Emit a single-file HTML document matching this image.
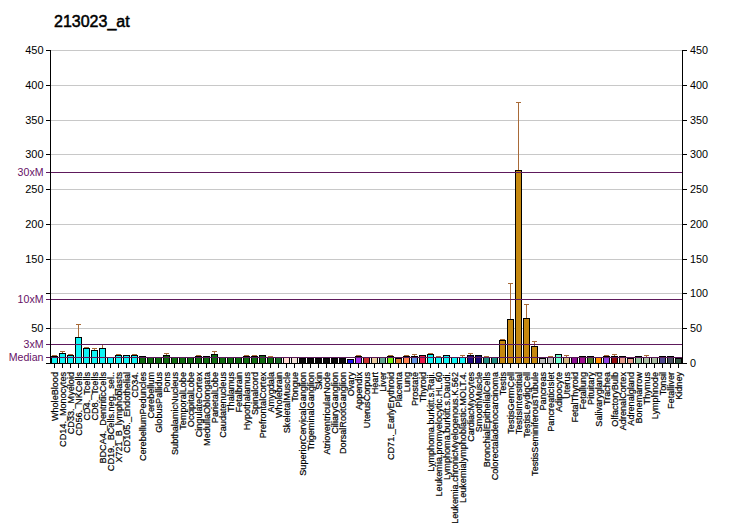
<!DOCTYPE html>
<html><head><meta charset="utf-8"><style>
html,body{margin:0;padding:0;background:#fff;width:732px;height:530px;overflow:hidden}
svg{display:block}
</style></head><body>
<svg width="732" height="530" viewBox="0 0 732 530" shape-rendering="crispEdges">
<rect x="51" y="328" width="631" height="1" fill="#c8c8c8"/>
<rect x="51" y="293" width="631" height="1" fill="#c8c8c8"/>
<rect x="51" y="259" width="631" height="1" fill="#c8c8c8"/>
<rect x="51" y="224" width="631" height="1" fill="#c8c8c8"/>
<rect x="51" y="189" width="631" height="1" fill="#c8c8c8"/>
<rect x="51" y="154" width="631" height="1" fill="#c8c8c8"/>
<rect x="51" y="120" width="631" height="1" fill="#c8c8c8"/>
<rect x="51" y="85" width="631" height="1" fill="#c8c8c8"/>
<rect x="51" y="50" width="631" height="1" fill="#c8c8c8"/>
<rect x="51" y="356" width="7" height="8" fill="#000"/>
<rect x="52" y="357" width="5" height="6" fill="#10f4f4"/>
<rect x="54" y="355" width="1" height="1" fill="#a86a38"/>
<rect x="52" y="355" width="5" height="1" fill="#a86a38"/>
<rect x="59" y="353" width="7" height="11" fill="#000"/>
<rect x="60" y="354" width="5" height="9" fill="#10f4f4"/>
<rect x="62" y="351" width="1" height="2" fill="#a86a38"/>
<rect x="60" y="351" width="5" height="1" fill="#a86a38"/>
<rect x="67" y="355" width="7" height="9" fill="#000"/>
<rect x="68" y="356" width="5" height="7" fill="#10f4f4"/>
<rect x="70" y="354" width="1" height="1" fill="#a86a38"/>
<rect x="68" y="354" width="5" height="1" fill="#a86a38"/>
<rect x="75" y="337" width="7" height="27" fill="#000"/>
<rect x="76" y="338" width="5" height="25" fill="#10f4f4"/>
<rect x="78" y="324" width="1" height="13" fill="#a86a38"/>
<rect x="76" y="324" width="5" height="1" fill="#a86a38"/>
<rect x="83" y="348" width="7" height="16" fill="#000"/>
<rect x="84" y="349" width="5" height="14" fill="#10f4f4"/>
<rect x="86" y="347" width="1" height="1" fill="#a86a38"/>
<rect x="84" y="347" width="5" height="1" fill="#a86a38"/>
<rect x="91" y="350" width="7" height="14" fill="#000"/>
<rect x="92" y="351" width="5" height="12" fill="#10f4f4"/>
<rect x="94" y="348" width="1" height="2" fill="#a86a38"/>
<rect x="92" y="348" width="5" height="1" fill="#a86a38"/>
<rect x="99" y="348" width="7" height="16" fill="#000"/>
<rect x="100" y="349" width="5" height="14" fill="#10f4f4"/>
<rect x="102" y="344" width="1" height="4" fill="#a86a38"/>
<rect x="100" y="344" width="5" height="1" fill="#a86a38"/>
<rect x="107" y="357" width="7" height="7" fill="#000"/>
<rect x="108" y="358" width="5" height="5" fill="#10f4f4"/>
<rect x="115" y="355" width="7" height="9" fill="#000"/>
<rect x="116" y="356" width="5" height="7" fill="#10f4f4"/>
<rect x="118" y="354" width="1" height="1" fill="#a86a38"/>
<rect x="116" y="354" width="5" height="1" fill="#a86a38"/>
<rect x="123" y="355" width="7" height="9" fill="#000"/>
<rect x="124" y="356" width="5" height="7" fill="#10f4f4"/>
<rect x="131" y="355" width="7" height="9" fill="#000"/>
<rect x="132" y="356" width="5" height="7" fill="#10f4f4"/>
<rect x="134" y="354" width="1" height="1" fill="#a86a38"/>
<rect x="132" y="354" width="5" height="1" fill="#a86a38"/>
<rect x="139" y="356" width="7" height="8" fill="#000"/>
<rect x="140" y="357" width="5" height="6" fill="#0e6a10"/>
<rect x="147" y="357" width="7" height="7" fill="#000"/>
<rect x="148" y="358" width="5" height="5" fill="#0e6a10"/>
<rect x="155" y="357" width="7" height="7" fill="#000"/>
<rect x="156" y="358" width="5" height="5" fill="#0e6a10"/>
<rect x="163" y="355" width="7" height="9" fill="#000"/>
<rect x="164" y="356" width="5" height="7" fill="#0e6a10"/>
<rect x="166" y="353" width="1" height="2" fill="#a86a38"/>
<rect x="164" y="353" width="5" height="1" fill="#a86a38"/>
<rect x="171" y="357" width="7" height="7" fill="#000"/>
<rect x="172" y="358" width="5" height="5" fill="#0e6a10"/>
<rect x="179" y="357" width="7" height="7" fill="#000"/>
<rect x="180" y="358" width="5" height="5" fill="#0e6a10"/>
<rect x="187" y="357" width="7" height="7" fill="#000"/>
<rect x="188" y="358" width="5" height="5" fill="#0e6a10"/>
<rect x="195" y="356" width="7" height="8" fill="#000"/>
<rect x="196" y="357" width="5" height="6" fill="#0e6a10"/>
<rect x="196" y="355" width="5" height="1" fill="#a86a38"/>
<rect x="203" y="356" width="7" height="8" fill="#000"/>
<rect x="204" y="357" width="5" height="6" fill="#0e6a10"/>
<rect x="211" y="354" width="7" height="10" fill="#000"/>
<rect x="212" y="355" width="5" height="8" fill="#0e6a10"/>
<rect x="214" y="351" width="1" height="3" fill="#a86a38"/>
<rect x="212" y="351" width="5" height="1" fill="#a86a38"/>
<rect x="219" y="357" width="7" height="7" fill="#000"/>
<rect x="220" y="358" width="5" height="5" fill="#0e6a10"/>
<rect x="227" y="357" width="7" height="7" fill="#000"/>
<rect x="228" y="358" width="5" height="5" fill="#0e6a10"/>
<rect x="235" y="357" width="7" height="7" fill="#000"/>
<rect x="236" y="358" width="5" height="5" fill="#0e6a10"/>
<rect x="243" y="356" width="7" height="8" fill="#000"/>
<rect x="244" y="357" width="5" height="6" fill="#0e6a10"/>
<rect x="246" y="355" width="1" height="1" fill="#a86a38"/>
<rect x="244" y="355" width="5" height="1" fill="#a86a38"/>
<rect x="251" y="356" width="7" height="8" fill="#000"/>
<rect x="252" y="357" width="5" height="6" fill="#0e6a10"/>
<rect x="254" y="355" width="1" height="1" fill="#a86a38"/>
<rect x="252" y="355" width="5" height="1" fill="#a86a38"/>
<rect x="259" y="355" width="7" height="9" fill="#000"/>
<rect x="260" y="356" width="5" height="7" fill="#0e6a10"/>
<rect x="267" y="357" width="7" height="7" fill="#000"/>
<rect x="268" y="358" width="5" height="5" fill="#0e6a10"/>
<rect x="270" y="356" width="1" height="1" fill="#a86a38"/>
<rect x="268" y="356" width="5" height="1" fill="#a86a38"/>
<rect x="275" y="357" width="7" height="7" fill="#000"/>
<rect x="276" y="358" width="5" height="5" fill="#1a6a2a"/>
<rect x="283" y="357" width="7" height="7" fill="#000"/>
<rect x="284" y="358" width="5" height="5" fill="#ffd8d0"/>
<rect x="291" y="357" width="7" height="7" fill="#000"/>
<rect x="292" y="358" width="5" height="5" fill="#f0e0d8"/>
<rect x="299" y="358" width="7" height="6" fill="#000"/>
<rect x="300" y="359" width="5" height="4" fill="#0a0a0a"/>
<rect x="307" y="358" width="7" height="6" fill="#000"/>
<rect x="308" y="359" width="5" height="4" fill="#0a0a0a"/>
<rect x="315" y="358" width="7" height="6" fill="#000"/>
<rect x="316" y="359" width="5" height="4" fill="#0a0a0a"/>
<rect x="323" y="358" width="7" height="6" fill="#000"/>
<rect x="324" y="359" width="5" height="4" fill="#0a0a0a"/>
<rect x="331" y="358" width="7" height="6" fill="#000"/>
<rect x="332" y="359" width="5" height="4" fill="#0a0a0a"/>
<rect x="339" y="358" width="7" height="6" fill="#000"/>
<rect x="340" y="359" width="5" height="4" fill="#0a0a0a"/>
<rect x="347" y="359" width="7" height="5" fill="#000"/>
<rect x="348" y="360" width="5" height="3" fill="#1a10f0"/>
<rect x="355" y="356" width="7" height="8" fill="#000"/>
<rect x="356" y="357" width="5" height="6" fill="#a030f0"/>
<rect x="358" y="355" width="1" height="1" fill="#a86a38"/>
<rect x="356" y="355" width="5" height="1" fill="#a86a38"/>
<rect x="363" y="357" width="7" height="7" fill="#000"/>
<rect x="364" y="358" width="5" height="5" fill="#c83030"/>
<rect x="371" y="357" width="7" height="7" fill="#000"/>
<rect x="372" y="358" width="5" height="5" fill="#e8c8a0"/>
<rect x="379" y="357" width="7" height="7" fill="#000"/>
<rect x="380" y="358" width="5" height="5" fill="#5fa58f"/>
<rect x="387" y="356" width="7" height="8" fill="#000"/>
<rect x="388" y="357" width="5" height="6" fill="#70f010"/>
<rect x="390" y="355" width="1" height="1" fill="#a86a38"/>
<rect x="388" y="355" width="5" height="1" fill="#a86a38"/>
<rect x="395" y="358" width="7" height="6" fill="#000"/>
<rect x="396" y="359" width="5" height="4" fill="#d87830"/>
<rect x="403" y="356" width="7" height="8" fill="#000"/>
<rect x="404" y="357" width="5" height="6" fill="#ff8050"/>
<rect x="404" y="355" width="5" height="1" fill="#a86a38"/>
<rect x="411" y="356" width="7" height="8" fill="#000"/>
<rect x="412" y="357" width="5" height="6" fill="#6090e0"/>
<rect x="414" y="354" width="1" height="2" fill="#a86a38"/>
<rect x="412" y="354" width="5" height="1" fill="#a86a38"/>
<rect x="419" y="355" width="7" height="9" fill="#000"/>
<rect x="420" y="356" width="5" height="7" fill="#e8184a"/>
<rect x="427" y="354" width="7" height="10" fill="#000"/>
<rect x="428" y="355" width="5" height="8" fill="#10f4f4"/>
<rect x="430" y="353" width="1" height="1" fill="#a86a38"/>
<rect x="428" y="353" width="5" height="1" fill="#a86a38"/>
<rect x="435" y="357" width="7" height="7" fill="#000"/>
<rect x="436" y="358" width="5" height="5" fill="#10f4f4"/>
<rect x="438" y="356" width="1" height="1" fill="#a86a38"/>
<rect x="436" y="356" width="5" height="1" fill="#a86a38"/>
<rect x="443" y="355" width="7" height="9" fill="#000"/>
<rect x="444" y="356" width="5" height="7" fill="#10f4f4"/>
<rect x="451" y="357" width="7" height="7" fill="#000"/>
<rect x="452" y="358" width="5" height="5" fill="#10f4f4"/>
<rect x="459" y="357" width="7" height="7" fill="#000"/>
<rect x="460" y="358" width="5" height="5" fill="#10f4f4"/>
<rect x="462" y="355" width="1" height="2" fill="#a86a38"/>
<rect x="460" y="355" width="5" height="1" fill="#a86a38"/>
<rect x="467" y="355" width="7" height="9" fill="#000"/>
<rect x="468" y="356" width="5" height="7" fill="#200a80"/>
<rect x="470" y="353" width="1" height="2" fill="#a86a38"/>
<rect x="468" y="353" width="5" height="1" fill="#a86a38"/>
<rect x="475" y="355" width="7" height="9" fill="#000"/>
<rect x="476" y="356" width="5" height="7" fill="#1a0a78"/>
<rect x="483" y="357" width="7" height="7" fill="#000"/>
<rect x="484" y="358" width="5" height="5" fill="#1f8a80"/>
<rect x="486" y="356" width="1" height="1" fill="#a86a38"/>
<rect x="484" y="356" width="5" height="1" fill="#a86a38"/>
<rect x="491" y="357" width="7" height="7" fill="#000"/>
<rect x="492" y="358" width="5" height="5" fill="#1f8a80"/>
<rect x="499" y="340" width="7" height="24" fill="#000"/>
<rect x="500" y="341" width="5" height="22" fill="#c5880f"/>
<rect x="502" y="339" width="1" height="1" fill="#a86a38"/>
<rect x="500" y="339" width="5" height="1" fill="#a86a38"/>
<rect x="507" y="319" width="7" height="45" fill="#000"/>
<rect x="508" y="320" width="5" height="43" fill="#c5880f"/>
<rect x="510" y="283" width="1" height="36" fill="#a86a38"/>
<rect x="508" y="283" width="5" height="1" fill="#a86a38"/>
<rect x="515" y="170" width="7" height="194" fill="#000"/>
<rect x="516" y="171" width="5" height="192" fill="#c5880f"/>
<rect x="518" y="102" width="1" height="68" fill="#a86a38"/>
<rect x="516" y="102" width="5" height="1" fill="#a86a38"/>
<rect x="523" y="318" width="7" height="46" fill="#000"/>
<rect x="524" y="319" width="5" height="44" fill="#c5880f"/>
<rect x="526" y="304" width="1" height="14" fill="#a86a38"/>
<rect x="524" y="304" width="5" height="1" fill="#a86a38"/>
<rect x="531" y="346" width="7" height="18" fill="#000"/>
<rect x="532" y="347" width="5" height="16" fill="#c5880f"/>
<rect x="534" y="341" width="1" height="5" fill="#a86a38"/>
<rect x="532" y="341" width="5" height="1" fill="#a86a38"/>
<rect x="539" y="358" width="7" height="6" fill="#000"/>
<rect x="540" y="359" width="5" height="4" fill="#b8b8b8"/>
<rect x="547" y="357" width="7" height="7" fill="#000"/>
<rect x="548" y="358" width="5" height="5" fill="#b8b8b8"/>
<rect x="550" y="356" width="1" height="1" fill="#a86a38"/>
<rect x="548" y="356" width="5" height="1" fill="#a86a38"/>
<rect x="555" y="354" width="7" height="10" fill="#000"/>
<rect x="556" y="355" width="5" height="8" fill="#70ffd0"/>
<rect x="563" y="357" width="7" height="7" fill="#000"/>
<rect x="564" y="358" width="5" height="5" fill="#d0b880"/>
<rect x="566" y="355" width="1" height="2" fill="#a86a38"/>
<rect x="564" y="355" width="5" height="1" fill="#a86a38"/>
<rect x="571" y="357" width="7" height="7" fill="#000"/>
<rect x="572" y="358" width="5" height="5" fill="#8b1090"/>
<rect x="579" y="356" width="7" height="8" fill="#000"/>
<rect x="580" y="357" width="5" height="6" fill="#a01090"/>
<rect x="587" y="356" width="7" height="8" fill="#000"/>
<rect x="588" y="357" width="5" height="6" fill="#4a7a30"/>
<rect x="595" y="357" width="7" height="7" fill="#000"/>
<rect x="596" y="358" width="5" height="5" fill="#ff9000"/>
<rect x="603" y="356" width="7" height="8" fill="#000"/>
<rect x="604" y="357" width="5" height="6" fill="#9040e0"/>
<rect x="606" y="355" width="1" height="1" fill="#a86a38"/>
<rect x="604" y="355" width="5" height="1" fill="#a86a38"/>
<rect x="611" y="356" width="7" height="8" fill="#000"/>
<rect x="612" y="357" width="5" height="6" fill="#900a10"/>
<rect x="614" y="354" width="1" height="2" fill="#a86a38"/>
<rect x="612" y="354" width="5" height="1" fill="#a86a38"/>
<rect x="619" y="356" width="7" height="8" fill="#000"/>
<rect x="620" y="357" width="5" height="6" fill="#e09888"/>
<rect x="627" y="358" width="7" height="6" fill="#000"/>
<rect x="628" y="359" width="5" height="4" fill="#e09888"/>
<rect x="635" y="356" width="7" height="8" fill="#000"/>
<rect x="636" y="357" width="5" height="6" fill="#90c098"/>
<rect x="643" y="357" width="7" height="7" fill="#000"/>
<rect x="644" y="358" width="5" height="5" fill="#a8bca0"/>
<rect x="646" y="355" width="1" height="2" fill="#a86a38"/>
<rect x="644" y="355" width="5" height="1" fill="#a86a38"/>
<rect x="651" y="357" width="7" height="7" fill="#000"/>
<rect x="652" y="358" width="5" height="5" fill="#a8b8a0"/>
<rect x="659" y="356" width="7" height="8" fill="#000"/>
<rect x="660" y="357" width="5" height="6" fill="#504890"/>
<rect x="667" y="356" width="7" height="8" fill="#000"/>
<rect x="668" y="357" width="5" height="6" fill="#485060"/>
<rect x="675" y="358" width="7" height="6" fill="#000"/>
<rect x="676" y="359" width="5" height="4" fill="#385848"/>
<rect x="46" y="172" width="636" height="1" fill="#5e1a5c"/>
<rect x="46" y="299" width="636" height="1" fill="#5e1a5c"/>
<rect x="46" y="344" width="636" height="1" fill="#5e1a5c"/>
<rect x="46" y="357" width="636" height="1" fill="#5e1a5c"/>
<rect x="50" y="50" width="1" height="314" fill="#000"/>
<rect x="682" y="50" width="1" height="314" fill="#000"/>
<rect x="46" y="363" width="641" height="1" fill="#000"/>
<rect x="46" y="328" width="4" height="1" fill="#000"/>
<rect x="683" y="328" width="4" height="1" fill="#000"/>
<rect x="46" y="293" width="4" height="1" fill="#000"/>
<rect x="683" y="293" width="4" height="1" fill="#000"/>
<rect x="46" y="259" width="4" height="1" fill="#000"/>
<rect x="683" y="259" width="4" height="1" fill="#000"/>
<rect x="46" y="224" width="4" height="1" fill="#000"/>
<rect x="683" y="224" width="4" height="1" fill="#000"/>
<rect x="46" y="189" width="4" height="1" fill="#000"/>
<rect x="683" y="189" width="4" height="1" fill="#000"/>
<rect x="46" y="154" width="4" height="1" fill="#000"/>
<rect x="683" y="154" width="4" height="1" fill="#000"/>
<rect x="46" y="120" width="4" height="1" fill="#000"/>
<rect x="683" y="120" width="4" height="1" fill="#000"/>
<rect x="46" y="85" width="4" height="1" fill="#000"/>
<rect x="683" y="85" width="4" height="1" fill="#000"/>
<rect x="46" y="50" width="4" height="1" fill="#000"/>
<rect x="683" y="50" width="4" height="1" fill="#000"/>
<rect x="54" y="364" width="1" height="4" fill="#000"/>
<rect x="62" y="364" width="1" height="4" fill="#000"/>
<rect x="70" y="364" width="1" height="4" fill="#000"/>
<rect x="78" y="364" width="1" height="4" fill="#000"/>
<rect x="86" y="364" width="1" height="4" fill="#000"/>
<rect x="94" y="364" width="1" height="4" fill="#000"/>
<rect x="102" y="364" width="1" height="4" fill="#000"/>
<rect x="110" y="364" width="1" height="4" fill="#000"/>
<rect x="118" y="364" width="1" height="4" fill="#000"/>
<rect x="126" y="364" width="1" height="4" fill="#000"/>
<rect x="134" y="364" width="1" height="4" fill="#000"/>
<rect x="142" y="364" width="1" height="4" fill="#000"/>
<rect x="150" y="364" width="1" height="4" fill="#000"/>
<rect x="158" y="364" width="1" height="4" fill="#000"/>
<rect x="166" y="364" width="1" height="4" fill="#000"/>
<rect x="174" y="364" width="1" height="4" fill="#000"/>
<rect x="182" y="364" width="1" height="4" fill="#000"/>
<rect x="190" y="364" width="1" height="4" fill="#000"/>
<rect x="198" y="364" width="1" height="4" fill="#000"/>
<rect x="206" y="364" width="1" height="4" fill="#000"/>
<rect x="214" y="364" width="1" height="4" fill="#000"/>
<rect x="222" y="364" width="1" height="4" fill="#000"/>
<rect x="230" y="364" width="1" height="4" fill="#000"/>
<rect x="238" y="364" width="1" height="4" fill="#000"/>
<rect x="246" y="364" width="1" height="4" fill="#000"/>
<rect x="254" y="364" width="1" height="4" fill="#000"/>
<rect x="262" y="364" width="1" height="4" fill="#000"/>
<rect x="270" y="364" width="1" height="4" fill="#000"/>
<rect x="278" y="364" width="1" height="4" fill="#000"/>
<rect x="286" y="364" width="1" height="4" fill="#000"/>
<rect x="294" y="364" width="1" height="4" fill="#000"/>
<rect x="302" y="364" width="1" height="4" fill="#000"/>
<rect x="310" y="364" width="1" height="4" fill="#000"/>
<rect x="318" y="364" width="1" height="4" fill="#000"/>
<rect x="326" y="364" width="1" height="4" fill="#000"/>
<rect x="334" y="364" width="1" height="4" fill="#000"/>
<rect x="342" y="364" width="1" height="4" fill="#000"/>
<rect x="350" y="364" width="1" height="4" fill="#000"/>
<rect x="358" y="364" width="1" height="4" fill="#000"/>
<rect x="366" y="364" width="1" height="4" fill="#000"/>
<rect x="374" y="364" width="1" height="4" fill="#000"/>
<rect x="382" y="364" width="1" height="4" fill="#000"/>
<rect x="390" y="364" width="1" height="4" fill="#000"/>
<rect x="398" y="364" width="1" height="4" fill="#000"/>
<rect x="406" y="364" width="1" height="4" fill="#000"/>
<rect x="414" y="364" width="1" height="4" fill="#000"/>
<rect x="422" y="364" width="1" height="4" fill="#000"/>
<rect x="430" y="364" width="1" height="4" fill="#000"/>
<rect x="438" y="364" width="1" height="4" fill="#000"/>
<rect x="446" y="364" width="1" height="4" fill="#000"/>
<rect x="454" y="364" width="1" height="4" fill="#000"/>
<rect x="462" y="364" width="1" height="4" fill="#000"/>
<rect x="470" y="364" width="1" height="4" fill="#000"/>
<rect x="478" y="364" width="1" height="4" fill="#000"/>
<rect x="486" y="364" width="1" height="4" fill="#000"/>
<rect x="494" y="364" width="1" height="4" fill="#000"/>
<rect x="502" y="364" width="1" height="4" fill="#000"/>
<rect x="510" y="364" width="1" height="4" fill="#000"/>
<rect x="518" y="364" width="1" height="4" fill="#000"/>
<rect x="526" y="364" width="1" height="4" fill="#000"/>
<rect x="534" y="364" width="1" height="4" fill="#000"/>
<rect x="542" y="364" width="1" height="4" fill="#000"/>
<rect x="550" y="364" width="1" height="4" fill="#000"/>
<rect x="558" y="364" width="1" height="4" fill="#000"/>
<rect x="566" y="364" width="1" height="4" fill="#000"/>
<rect x="574" y="364" width="1" height="4" fill="#000"/>
<rect x="582" y="364" width="1" height="4" fill="#000"/>
<rect x="590" y="364" width="1" height="4" fill="#000"/>
<rect x="598" y="364" width="1" height="4" fill="#000"/>
<rect x="606" y="364" width="1" height="4" fill="#000"/>
<rect x="614" y="364" width="1" height="4" fill="#000"/>
<rect x="622" y="364" width="1" height="4" fill="#000"/>
<rect x="630" y="364" width="1" height="4" fill="#000"/>
<rect x="638" y="364" width="1" height="4" fill="#000"/>
<rect x="646" y="364" width="1" height="4" fill="#000"/>
<rect x="654" y="364" width="1" height="4" fill="#000"/>
<rect x="662" y="364" width="1" height="4" fill="#000"/>
<rect x="670" y="364" width="1" height="4" fill="#000"/>
<rect x="678" y="364" width="1" height="4" fill="#000"/>
<g shape-rendering="auto" font-family="Liberation Sans, sans-serif">
<text x="54" y="27" font-size="16" stroke="#000" stroke-width="0.5" fill="#000">213023_at</text>
<text transform="translate(43.5,262.6) scale(1.02,1)" font-size="10.8" text-anchor="end" fill="#000">150</text>
<text transform="translate(43.5,227.8) scale(1.02,1)" font-size="10.8" text-anchor="end" fill="#000">200</text>
<text transform="translate(43.5,193.0) scale(1.02,1)" font-size="10.8" text-anchor="end" fill="#000">250</text>
<text transform="translate(43.5,158.2) scale(1.02,1)" font-size="10.8" text-anchor="end" fill="#000">300</text>
<text transform="translate(43.5,123.5) scale(1.02,1)" font-size="10.8" text-anchor="end" fill="#000">350</text>
<text transform="translate(43.5,88.7) scale(1.02,1)" font-size="10.8" text-anchor="end" fill="#000">400</text>
<text transform="translate(43.5,53.9) scale(1.02,1)" font-size="10.8" text-anchor="end" fill="#000">450</text>
<text transform="translate(43.5,332.1) scale(1.02,1)" font-size="10.8" text-anchor="end" fill="#000">50</text>
<text transform="translate(43.5,176.4) scale(0.98,1)" font-size="10.8" text-anchor="end" fill="#661066">30xM</text>
<text transform="translate(43.5,303.4) scale(0.98,1)" font-size="10.8" text-anchor="end" fill="#661066">10xM</text>
<text transform="translate(43.5,347.8) scale(0.98,1)" font-size="10.8" text-anchor="end" fill="#661066">3xM</text>
<text transform="translate(43.5,360.5) scale(0.98,1)" font-size="10.8" text-anchor="end" fill="#661066">Median</text>
<text transform="translate(690,366.9) scale(1.0,1)" font-size="10.8" fill="#000">0</text>
<text transform="translate(690,332.1) scale(1.0,1)" font-size="10.8" fill="#000">50</text>
<text transform="translate(690,297.3) scale(1.0,1)" font-size="10.8" fill="#000">100</text>
<text transform="translate(690,262.6) scale(1.0,1)" font-size="10.8" fill="#000">150</text>
<text transform="translate(690,227.8) scale(1.0,1)" font-size="10.8" fill="#000">200</text>
<text transform="translate(690,193.0) scale(1.0,1)" font-size="10.8" fill="#000">250</text>
<text transform="translate(690,158.2) scale(1.0,1)" font-size="10.8" fill="#000">300</text>
<text transform="translate(690,123.5) scale(1.0,1)" font-size="10.8" fill="#000">350</text>
<text transform="translate(690,88.7) scale(1.0,1)" font-size="10.8" fill="#000">400</text>
<text transform="translate(690,53.9) scale(1.0,1)" font-size="10.8" fill="#000">450</text>
<text transform="translate(58,372) rotate(-90) scale(0.93,1)" font-size="9.8" text-anchor="end" fill="#000" stroke="#000" stroke-width="0.2">WholeBlood</text>
<text transform="translate(66,372) rotate(-90) scale(0.93,1)" font-size="9.8" text-anchor="end" fill="#000" stroke="#000" stroke-width="0.2">CD14._Monocytes</text>
<text transform="translate(74,372) rotate(-90) scale(0.93,1)" font-size="9.8" text-anchor="end" fill="#000" stroke="#000" stroke-width="0.2">CD33._Myeloid</text>
<text transform="translate(82,372) rotate(-90) scale(0.93,1)" font-size="9.8" text-anchor="end" fill="#000" stroke="#000" stroke-width="0.2">CD56._NKCells</text>
<text transform="translate(90,372) rotate(-90) scale(0.93,1)" font-size="9.8" text-anchor="end" fill="#000" stroke="#000" stroke-width="0.2">CD4._Tcells</text>
<text transform="translate(98,372) rotate(-90) scale(0.93,1)" font-size="9.8" text-anchor="end" fill="#000" stroke="#000" stroke-width="0.2">CD8._Tcells</text>
<text transform="translate(106,372) rotate(-90) scale(0.93,1)" font-size="9.8" text-anchor="end" fill="#000" stroke="#000" stroke-width="0.2">BDCA4._DentriticCells</text>
<text transform="translate(114,372) rotate(-90) scale(0.93,1)" font-size="9.8" text-anchor="end" fill="#000" stroke="#000" stroke-width="0.2">CD19._BCells.neg._sel..</text>
<text transform="translate(122,372) rotate(-90) scale(0.93,1)" font-size="9.8" text-anchor="end" fill="#000" stroke="#000" stroke-width="0.2">X721_B_lymphoblasts</text>
<text transform="translate(130,372) rotate(-90) scale(0.93,1)" font-size="9.8" text-anchor="end" fill="#000" stroke="#000" stroke-width="0.2">CD105._Endothelial</text>
<text transform="translate(138,372) rotate(-90) scale(0.93,1)" font-size="9.8" text-anchor="end" fill="#000" stroke="#000" stroke-width="0.2">CD34.</text>
<text transform="translate(146,372) rotate(-90) scale(0.93,1)" font-size="9.8" text-anchor="end" fill="#000" stroke="#000" stroke-width="0.2">CerebellumPeduncles</text>
<text transform="translate(154,372) rotate(-90) scale(0.93,1)" font-size="9.8" text-anchor="end" fill="#000" stroke="#000" stroke-width="0.2">Cerebellum</text>
<text transform="translate(162,372) rotate(-90) scale(0.93,1)" font-size="9.8" text-anchor="end" fill="#000" stroke="#000" stroke-width="0.2">GlobusPallidus</text>
<text transform="translate(170,372) rotate(-90) scale(0.93,1)" font-size="9.8" text-anchor="end" fill="#000" stroke="#000" stroke-width="0.2">Pons</text>
<text transform="translate(178,372) rotate(-90) scale(0.93,1)" font-size="9.8" text-anchor="end" fill="#000" stroke="#000" stroke-width="0.2">SubthalamicNucleus</text>
<text transform="translate(186,372) rotate(-90) scale(0.93,1)" font-size="9.8" text-anchor="end" fill="#000" stroke="#000" stroke-width="0.2">TemporalLobe</text>
<text transform="translate(194,372) rotate(-90) scale(0.93,1)" font-size="9.8" text-anchor="end" fill="#000" stroke="#000" stroke-width="0.2">OccipitalLobe</text>
<text transform="translate(202,372) rotate(-90) scale(0.93,1)" font-size="9.8" text-anchor="end" fill="#000" stroke="#000" stroke-width="0.2">CingulateCortex</text>
<text transform="translate(210,372) rotate(-90) scale(0.93,1)" font-size="9.8" text-anchor="end" fill="#000" stroke="#000" stroke-width="0.2">MedullaOblongata</text>
<text transform="translate(218,372) rotate(-90) scale(0.93,1)" font-size="9.8" text-anchor="end" fill="#000" stroke="#000" stroke-width="0.2">ParietalLobe</text>
<text transform="translate(226,372) rotate(-90) scale(0.93,1)" font-size="9.8" text-anchor="end" fill="#000" stroke="#000" stroke-width="0.2">Caudatenucleus</text>
<text transform="translate(234,372) rotate(-90) scale(0.93,1)" font-size="9.8" text-anchor="end" fill="#000" stroke="#000" stroke-width="0.2">Thalamus</text>
<text transform="translate(242,372) rotate(-90) scale(0.93,1)" font-size="9.8" text-anchor="end" fill="#000" stroke="#000" stroke-width="0.2">Fetalbrain</text>
<text transform="translate(250,372) rotate(-90) scale(0.93,1)" font-size="9.8" text-anchor="end" fill="#000" stroke="#000" stroke-width="0.2">Hypothalamus</text>
<text transform="translate(258,372) rotate(-90) scale(0.93,1)" font-size="9.8" text-anchor="end" fill="#000" stroke="#000" stroke-width="0.2">Spinalcord</text>
<text transform="translate(266,372) rotate(-90) scale(0.93,1)" font-size="9.8" text-anchor="end" fill="#000" stroke="#000" stroke-width="0.2">PrefrontalCortex</text>
<text transform="translate(274,372) rotate(-90) scale(0.93,1)" font-size="9.8" text-anchor="end" fill="#000" stroke="#000" stroke-width="0.2">Amygdala</text>
<text transform="translate(282,372) rotate(-90) scale(0.93,1)" font-size="9.8" text-anchor="end" fill="#000" stroke="#000" stroke-width="0.2">Wholebrain</text>
<text transform="translate(290,372) rotate(-90) scale(0.93,1)" font-size="9.8" text-anchor="end" fill="#000" stroke="#000" stroke-width="0.2">SkeletalMuscle</text>
<text transform="translate(298,372) rotate(-90) scale(0.93,1)" font-size="9.8" text-anchor="end" fill="#000" stroke="#000" stroke-width="0.2">Tongue</text>
<text transform="translate(306,372) rotate(-90) scale(0.93,1)" font-size="9.8" text-anchor="end" fill="#000" stroke="#000" stroke-width="0.2">SuperiorCervicalGanglion</text>
<text transform="translate(314,372) rotate(-90) scale(0.93,1)" font-size="9.8" text-anchor="end" fill="#000" stroke="#000" stroke-width="0.2">TrigeminalGanglion</text>
<text transform="translate(322,372) rotate(-90) scale(0.93,1)" font-size="9.8" text-anchor="end" fill="#000" stroke="#000" stroke-width="0.2">Skin</text>
<text transform="translate(330,372) rotate(-90) scale(0.93,1)" font-size="9.8" text-anchor="end" fill="#000" stroke="#000" stroke-width="0.2">AtrioventricularNode</text>
<text transform="translate(338,372) rotate(-90) scale(0.93,1)" font-size="9.8" text-anchor="end" fill="#000" stroke="#000" stroke-width="0.2">CiliaryGanglion</text>
<text transform="translate(346,372) rotate(-90) scale(0.93,1)" font-size="9.8" text-anchor="end" fill="#000" stroke="#000" stroke-width="0.2">DorsalRootGanglion</text>
<text transform="translate(354,372) rotate(-90) scale(0.93,1)" font-size="9.8" text-anchor="end" fill="#000" stroke="#000" stroke-width="0.2">Ovary</text>
<text transform="translate(362,372) rotate(-90) scale(0.93,1)" font-size="9.8" text-anchor="end" fill="#000" stroke="#000" stroke-width="0.2">Appendix</text>
<text transform="translate(370,372) rotate(-90) scale(0.93,1)" font-size="9.8" text-anchor="end" fill="#000" stroke="#000" stroke-width="0.2">UterusCorpus</text>
<text transform="translate(378,372) rotate(-90) scale(0.93,1)" font-size="9.8" text-anchor="end" fill="#000" stroke="#000" stroke-width="0.2">Heart</text>
<text transform="translate(386,372) rotate(-90) scale(0.93,1)" font-size="9.8" text-anchor="end" fill="#000" stroke="#000" stroke-width="0.2">Liver</text>
<text transform="translate(394,372) rotate(-90) scale(0.93,1)" font-size="9.8" text-anchor="end" fill="#000" stroke="#000" stroke-width="0.2">CD71._EarlyErythroid</text>
<text transform="translate(402,372) rotate(-90) scale(0.93,1)" font-size="9.8" text-anchor="end" fill="#000" stroke="#000" stroke-width="0.2">Placenta</text>
<text transform="translate(410,372) rotate(-90) scale(0.93,1)" font-size="9.8" text-anchor="end" fill="#000" stroke="#000" stroke-width="0.2">Lung</text>
<text transform="translate(418,372) rotate(-90) scale(0.93,1)" font-size="9.8" text-anchor="end" fill="#000" stroke="#000" stroke-width="0.2">Prostate</text>
<text transform="translate(426,372) rotate(-90) scale(0.93,1)" font-size="9.8" text-anchor="end" fill="#000" stroke="#000" stroke-width="0.2">Thyroid</text>
<text transform="translate(434,372) rotate(-90) scale(0.93,1)" font-size="9.8" text-anchor="end" fill="#000" stroke="#000" stroke-width="0.2">Lymphoma.burkitt.s.Raji.</text>
<text transform="translate(442,372) rotate(-90) scale(0.93,1)" font-size="9.8" text-anchor="end" fill="#000" stroke="#000" stroke-width="0.2">Leukemia.promyelocytic.HL.60</text>
<text transform="translate(450,372) rotate(-90) scale(0.93,1)" font-size="9.8" text-anchor="end" fill="#000" stroke="#000" stroke-width="0.2">Lymphoma.burkitt.s.Daudi.</text>
<text transform="translate(458,372) rotate(-90) scale(0.93,1)" font-size="9.8" text-anchor="end" fill="#000" stroke="#000" stroke-width="0.2">Leukemia.chronicMyelogenous.K.562</text>
<text transform="translate(466,372) rotate(-90) scale(0.93,1)" font-size="9.8" text-anchor="end" fill="#000" stroke="#000" stroke-width="0.2">Leukemialymphoblastic.MOLT.4.</text>
<text transform="translate(474,372) rotate(-90) scale(0.93,1)" font-size="9.8" text-anchor="end" fill="#000" stroke="#000" stroke-width="0.2">CardiacMyocytes</text>
<text transform="translate(482,372) rotate(-90) scale(0.93,1)" font-size="9.8" text-anchor="end" fill="#000" stroke="#000" stroke-width="0.2">SmoothMuscle</text>
<text transform="translate(490,372) rotate(-90) scale(0.93,1)" font-size="9.8" text-anchor="end" fill="#000" stroke="#000" stroke-width="0.2">BronchialEpithelialCells</text>
<text transform="translate(498,372) rotate(-90) scale(0.93,1)" font-size="9.8" text-anchor="end" fill="#000" stroke="#000" stroke-width="0.2">Colorectaladenocarcinoma</text>
<text transform="translate(506,372) rotate(-90) scale(0.93,1)" font-size="9.8" text-anchor="end" fill="#000" stroke="#000" stroke-width="0.2">Testis</text>
<text transform="translate(514,372) rotate(-90) scale(0.93,1)" font-size="9.8" text-anchor="end" fill="#000" stroke="#000" stroke-width="0.2">TestisGermCell</text>
<text transform="translate(522,372) rotate(-90) scale(0.93,1)" font-size="9.8" text-anchor="end" fill="#000" stroke="#000" stroke-width="0.2">TestisInterstitial</text>
<text transform="translate(530,372) rotate(-90) scale(0.93,1)" font-size="9.8" text-anchor="end" fill="#000" stroke="#000" stroke-width="0.2">TestisLeydigCell</text>
<text transform="translate(538,372) rotate(-90) scale(0.93,1)" font-size="9.8" text-anchor="end" fill="#000" stroke="#000" stroke-width="0.2">TestisSeminiferousTubule</text>
<text transform="translate(546,372) rotate(-90) scale(0.93,1)" font-size="9.8" text-anchor="end" fill="#000" stroke="#000" stroke-width="0.2">Pancreas</text>
<text transform="translate(554,372) rotate(-90) scale(0.93,1)" font-size="9.8" text-anchor="end" fill="#000" stroke="#000" stroke-width="0.2">PancreaticIslet</text>
<text transform="translate(562,372) rotate(-90) scale(0.93,1)" font-size="9.8" text-anchor="end" fill="#000" stroke="#000" stroke-width="0.2">Adipocyte</text>
<text transform="translate(570,372) rotate(-90) scale(0.93,1)" font-size="9.8" text-anchor="end" fill="#000" stroke="#000" stroke-width="0.2">Uterus</text>
<text transform="translate(578,372) rotate(-90) scale(0.93,1)" font-size="9.8" text-anchor="end" fill="#000" stroke="#000" stroke-width="0.2">FetalThyroid</text>
<text transform="translate(586,372) rotate(-90) scale(0.93,1)" font-size="9.8" text-anchor="end" fill="#000" stroke="#000" stroke-width="0.2">Fetallung</text>
<text transform="translate(594,372) rotate(-90) scale(0.93,1)" font-size="9.8" text-anchor="end" fill="#000" stroke="#000" stroke-width="0.2">Pituitary</text>
<text transform="translate(602,372) rotate(-90) scale(0.93,1)" font-size="9.8" text-anchor="end" fill="#000" stroke="#000" stroke-width="0.2">Salivarygland</text>
<text transform="translate(610,372) rotate(-90) scale(0.93,1)" font-size="9.8" text-anchor="end" fill="#000" stroke="#000" stroke-width="0.2">Trachea</text>
<text transform="translate(618,372) rotate(-90) scale(0.93,1)" font-size="9.8" text-anchor="end" fill="#000" stroke="#000" stroke-width="0.2">OlfactoryBulb</text>
<text transform="translate(626,372) rotate(-90) scale(0.93,1)" font-size="9.8" text-anchor="end" fill="#000" stroke="#000" stroke-width="0.2">AdrenalCortex</text>
<text transform="translate(634,372) rotate(-90) scale(0.93,1)" font-size="9.8" text-anchor="end" fill="#000" stroke="#000" stroke-width="0.2">Adrenalgland</text>
<text transform="translate(642,372) rotate(-90) scale(0.93,1)" font-size="9.8" text-anchor="end" fill="#000" stroke="#000" stroke-width="0.2">Bonemarrow</text>
<text transform="translate(650,372) rotate(-90) scale(0.93,1)" font-size="9.8" text-anchor="end" fill="#000" stroke="#000" stroke-width="0.2">Thymus</text>
<text transform="translate(658,372) rotate(-90) scale(0.93,1)" font-size="9.8" text-anchor="end" fill="#000" stroke="#000" stroke-width="0.2">Lymphnode</text>
<text transform="translate(666,372) rotate(-90) scale(0.93,1)" font-size="9.8" text-anchor="end" fill="#000" stroke="#000" stroke-width="0.2">Tonsil</text>
<text transform="translate(674,372) rotate(-90) scale(0.93,1)" font-size="9.8" text-anchor="end" fill="#000" stroke="#000" stroke-width="0.2">Fetalliver</text>
<text transform="translate(682,372) rotate(-90) scale(0.93,1)" font-size="9.8" text-anchor="end" fill="#000" stroke="#000" stroke-width="0.2">Kidney</text>
</g></svg>
</body></html>
